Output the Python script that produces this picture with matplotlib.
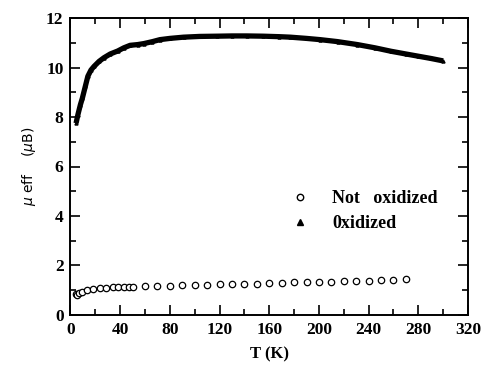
"""Effective moment vs temperature, not oxidized vs oxidized."""

import matplotlib
matplotlib.use("Agg")
import matplotlib.pyplot as plt
from matplotlib.ticker import MultipleLocator

# not oxidized (open circles)
t_not = [4.4, 5.5, 7, 9, 13.5, 18.5, 24, 28.5, 34, 38.5, 43, 47.5, 50,
         60, 70, 80, 90, 100, 110, 120, 130, 140, 150, 160, 170, 180,
         190, 200, 210, 220, 230, 240, 250, 260, 270]
mu_not = [0.86, 0.82, 0.88, 0.94, 0.99, 1.04, 1.07, 1.09, 1.11, 1.12, 1.13, 1.13, 1.13,
          1.15, 1.16, 1.18, 1.19, 1.21, 1.22, 1.23, 1.24, 1.25, 1.26, 1.28, 1.29, 1.31,
          1.32, 1.33, 1.34, 1.35, 1.37, 1.38, 1.39, 1.41, 1.44]

# oxidized (filled triangles, dense)
t_ox = [4.5, 6, 8, 9.5, 12, 14, 16.5, 19, 23, 27, 32, 38, 43, 48, 54, 59,
        66, 72, 80, 91, 104, 118, 130, 142, 155, 168, 177, 190, 201, 215,
        231, 245, 258, 270, 280, 290, 300]
mu_ox = [7.75, 8.1, 8.5, 8.75, 9.25, 9.65, 9.9, 10.05, 10.25, 10.4, 10.55, 10.67, 10.8,
         10.9, 10.93, 10.97, 11.05, 11.13, 11.18, 11.23, 11.26, 11.27, 11.28, 11.28, 11.27,
         11.25, 11.23, 11.18, 11.13, 11.05, 10.93, 10.8, 10.66, 10.55, 10.46, 10.37, 10.27]

serif = ["Liberation Serif", "DejaVu Serif"]

fig = plt.figure(figsize=(4.86, 3.70), dpi=100)
ax = fig.add_axes([0.145, 0.149, 0.818, 0.802])

ax.plot(t_ox, mu_ox, color="black", linewidth=3.8, solid_capstyle="butt",
        marker="^", markersize=2.2, label="0xidized")
ax.plot(t_not, mu_not, linestyle="none", marker="o", markersize=4.6,
        markerfacecolor="white", markeredgecolor="black", markeredgewidth=0.9,
        label="Not   oxidized")

ax.set_xlim(0, 320)
ax.set_ylim(0, 12)
ax.xaxis.set_major_locator(MultipleLocator(40))
ax.xaxis.set_minor_locator(MultipleLocator(20))
ax.yaxis.set_major_locator(MultipleLocator(2))
ax.yaxis.set_minor_locator(MultipleLocator(1))
ax.tick_params(which="both", direction="in", top=True, right=True, width=1.2)
ax.tick_params(which="major", length=7, pad=5)
ax.tick_params(which="minor", length=4)
for s in ax.spines.values():
    s.set_linewidth(1.4)

for lab in ax.get_xticklabels() + ax.get_yticklabels():
    lab.set_family(serif)
    lab.set_fontweight("bold")
    lab.set_fontsize(12.5)

ax.set_xlabel("T (K)", family=serif, fontweight="bold", fontsize=12, labelpad=6)
ax.set_ylabel(r"$\mu$ eff    ($\mu$B)", family=["DejaVu Sans"], fontsize=10, labelpad=6)

# legend (reference draws circle entry above triangle entry)
handles, labels = ax.get_legend_handles_labels()
leg_h = [plt.Line2D([], [], linestyle="none", marker="o", markersize=4.6,
                    markerfacecolor="white", markeredgecolor="black"),
         plt.Line2D([], [], linestyle="none", marker="^", markersize=4.5, color="black")]
ax.legend(leg_h, [labels[1], labels[0]], loc="center left", bbox_to_anchor=(0.49, 0.35),
          frameon=False, handletextpad=0.8, labelspacing=0.45,
          prop={"family": serif, "weight": "bold", "size": 13})

fig.savefig("out.png", dpi=100)
